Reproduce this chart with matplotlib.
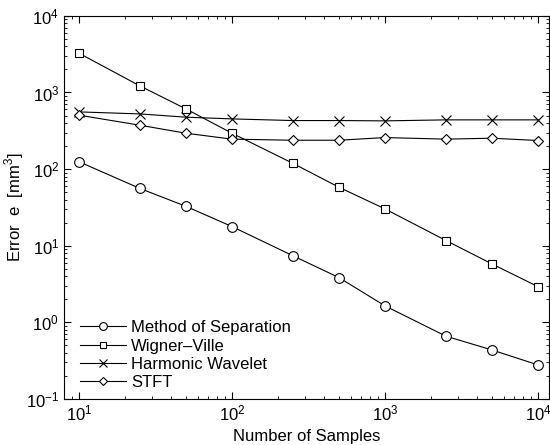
import matplotlib
matplotlib.use("Agg")
import matplotlib.pyplot as plt
from matplotlib.ticker import LogLocator, NullFormatter

plt.rcParams['font.family'] = ['Liberation Sans', 'DejaVu Sans']
plt.rcParams['mathtext.fontset'] = 'custom'
plt.rcParams['mathtext.rm'] = 'Liberation Sans'

samples = [10, 25, 50, 100, 250, 500, 1000, 2500, 5000, 10000]
sep = [125, 56, 32.7, 17.8, 7.4, 3.84, 1.64, 0.66, 0.436, 0.278]
wigner = [3260, 1220, 611, 294, 119, 58, 30.2, 11.7, 5.78, 2.92]
wavelet = [558, 525, 476, 452, 430, 430, 426, 439, 439, 439]
stft = [506, 374, 294, 246, 238, 238, 258, 246, 253, 236]

labels = ["Method of Separation", "Wigner\u2013Ville", "Harmonic Wavelet", "STFT"]
markers = ["o", "s", "x", "D"]
sizes = [7, 6, 6.5, 5.2]

fig = plt.figure(figsize=(5.5, 4.45), dpi=100)
ax = fig.add_axes([0.1164, 0.1034, 0.882, 0.861])

for ys, lab, m, s in zip([sep, wigner, wavelet, stft], labels, markers, sizes):
    ax.plot(samples, ys, color="black", lw=0.8, marker=m, ms=s,
            mfc="white", mec="black", mew=0.8, label=lab)

ax.set_xscale("log")
ax.set_yscale("log")
ax.set_xlim(8, 11800)
ax.set_ylim(0.1, 1e4)
ax.yaxis.set_major_locator(LogLocator(base=10, numticks=10))
ax.yaxis.set_minor_locator(LogLocator(base=10, subs=range(2, 10), numticks=10))
ax.yaxis.set_minor_formatter(NullFormatter())
ax.tick_params(which="both", direction="in", top=True, right=True, labelsize=12)
ax.tick_params(which="major", length=5, width=0.8)
ax.tick_params(which="minor", length=2.5, width=0.6)
for sp in ax.spines.values():
    sp.set_linewidth(0.8)

ax.set_xlabel("Number of Samples", fontsize=12, labelpad=4)
ax.set_ylabel("Error  e  [mm$^3$]", fontsize=12)
ax.yaxis.set_label_coords(-0.078, 0.5)

leg = ax.legend(loc="lower left", frameon=False, fontsize=12, markerscale=0.8,
                handlelength=2.75, handletextpad=0.3, labelspacing=0.2,
                borderaxespad=0.4, bbox_to_anchor=(0.006, -0.012))

fig.savefig("out.png", dpi=100)
